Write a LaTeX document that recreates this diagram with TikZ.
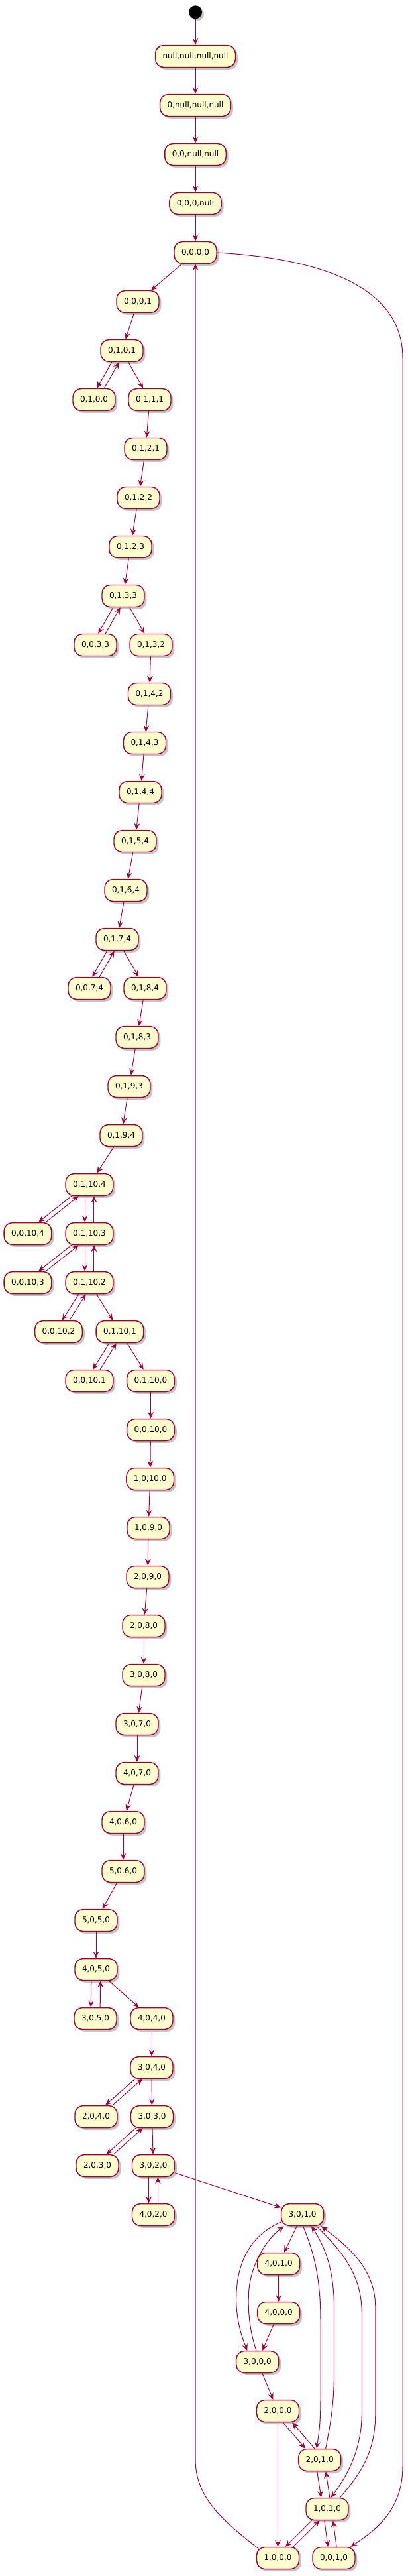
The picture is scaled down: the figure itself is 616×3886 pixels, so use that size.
\documentclass[tikz,border=0pt]{standalone}
\usepackage{fontspec}
\setmainfont{DejaVu Sans}
\usetikzlibrary{arrows.meta,shadows,calc}
\definecolor{pborder}{HTML}{A80036}
\definecolor{pfill}{HTML}{FEFECE}
\tikzset{
  st/.style={draw=pborder, fill=pfill, line width=1.1pt, rounded corners=9.4pt,
    minimum height=24.75pt, inner xsep=8.25pt, inner ysep=0pt,
    font=\fontsize{9}{11}\selectfont, text=black,
    drop shadow={shadow xshift=2.6pt, shadow yshift=-2.6pt, fill=gray, opacity=0.45}},
  arr/.style={draw=pborder, line width=0.75pt, -{Stealth[length=7.5pt,width=6.5pt,inset=2.8pt]}},
}
\newcommand{\pairedge}[3]{%
  \draw[arr, transform canvas={xshift=-#3}] (#1) -- (#2);
  \draw[arr, transform canvas={xshift=#3}] (#2) -- (#1);}
\begin{document}
\begin{tikzpicture}[x=0.75pt,y=-0.75pt]
\fill[white] (0,0) rectangle (616,3886);
\useasboundingbox (0,0) rectangle (616,3886);

% start
\node[circle, fill=black, minimum size=15pt, inner sep=0pt,
  drop shadow={shadow xshift=2.2pt, shadow yshift=-2.2pt, fill=gray, opacity=0.45}] (start) at (295,18.3) {};

% states
\node[st] (nA) at (295,85) {null,null,null,null};
\node[st] (nB) at (295,159) {0,null,null,null};
\node[st] (nC) at (295,233) {0,0,null,null};
\node[st] (nD) at (295,307) {0,0,0,null};
\node[st] (n0-0-0-0) at (295,381) {0,0,0,0};
\node[st] (n0-0-0-1) at (208,455) {0,0,0,1};
\node[st] (n0-1-0-1) at (184,529) {0,1,0,1};
\node[st] (n0-1-0-0) at (142,603) {0,1,0,0};
\node[st] (n0-1-1-1) at (226,603) {0,1,1,1};
\node[st] (n0-1-2-1) at (220,677) {0,1,2,1};
\node[st] (n0-1-2-2) at (209,751) {0,1,2,2};
\node[st] (n0-1-2-3) at (197,825) {0,1,2,3};
\node[st] (n0-1-3-3) at (186,899) {0,1,3,3};
\node[st] (n0-0-3-3) at (144,973) {0,0,3,3};
\node[st] (n0-1-3-2) at (228,973) {0,1,3,2};
\node[st] (n0-1-4-2) at (225.5,1047) {0,1,4,2};
\node[st] (n0-1-4-3) at (218.5,1121) {0,1,4,3};
\node[st] (n0-1-4-4) at (212,1195) {0,1,4,4};
\node[st] (n0-1-5-4) at (204,1269) {0,1,5,4};
\node[st] (n0-1-6-4) at (190,1343) {0,1,6,4};
\node[st] (n0-1-7-4) at (177,1417) {0,1,7,4};
\node[st] (n0-0-7-4) at (135,1491) {0,0,7,4};
\node[st] (n0-1-8-4) at (219,1491) {0,1,8,4};
\node[st] (n0-1-8-3) at (207,1565) {0,1,8,3};
\node[st] (n0-1-9-3) at (195,1639) {0,1,9,3};
\node[st] (n0-1-9-4) at (183,1713) {0,1,9,4};
\node[st] (n0-1-10-4) at (135,1787) {0,1,10,4};
\node[st] (n0-0-10-4) at (42,1861) {0,0,10,4};
\node[st] (n0-1-10-3) at (135,1861) {0,1,10,3};
\node[st] (n0-0-10-3) at (42,1935) {0,0,10,3};
\node[st] (n0-1-10-2) at (135,1935) {0,1,10,2};
\node[st] (n0-0-10-2) at (88.5,2009) {0,0,10,2};
\node[st] (n0-1-10-1) at (181,2009) {0,1,10,1};
\node[st] (n0-0-10-1) at (135,2083) {0,0,10,1};
\node[st] (n0-1-10-0) at (227.5,2083) {0,1,10,0};
\node[st] (n0-0-10-0) at (227.5,2157) {0,0,10,0};
\node[st] (n1-0-10-0) at (226.7,2231) {1,0,10,0};
\node[st] (n1-0-9-0) at (224,2305) {1,0,9,0};
\node[st] (n2-0-9-0) at (223,2379) {2,0,9,0};
\node[st] (n2-0-8-0) at (217,2453) {2,0,8,0};
\node[st] (n3-0-8-0) at (217,2527) {3,0,8,0};
\node[st] (n3-0-7-0) at (207,2601) {3,0,7,0};
\node[st] (n4-0-7-0) at (207,2675) {4,0,7,0};
\node[st] (n4-0-6-0) at (186,2749) {4,0,6,0};
\node[st] (n5-0-6-0) at (186,2823) {5,0,6,0};
\node[st] (n5-0-5-0) at (145,2897) {5,0,5,0};
\node[st] (n4-0-5-0) at (145,2971) {4,0,5,0};
\node[st] (n3-0-5-0) at (144,3045) {3,0,5,0};
\node[st] (n4-0-4-0) at (229,3045) {4,0,4,0};
\node[st] (n3-0-4-0) at (229,3119) {3,0,4,0};
\node[st] (n2-0-4-0) at (145,3193) {2,0,4,0};
\node[st] (n3-0-3-0) at (229.5,3193) {3,0,3,0};
\node[st] (n2-0-3-0) at (147,3267) {2,0,3,0};
\node[st] (n3-0-2-0) at (231.5,3267) {3,0,2,0};
\node[st] (n4-0-2-0) at (231.5,3341) {4,0,2,0};
\node[st] (n3-0-1-0) at (456.6,3341) {3,0,1,0};
\node[st] (n4-0-1-0) at (420.7,3415) {4,0,1,0};
\node[st] (n4-0-0-0) at (420.7,3489) {4,0,0,0};
\node[st] (n3-0-0-0) at (388.7,3563) {3,0,0,0};
\node[st] (n2-0-0-0) at (419.5,3637) {2,0,0,0};
\node[st] (n2-0-1-0) at (482.7,3711) {2,0,1,0};
\node[st] (n1-0-1-0) at (494,3785) {1,0,1,0};
\node[st] (n1-0-0-0) at (419.5,3859) {1,0,0,0};
\node[st] (n0-0-1-0) at (504,3859) {0,0,1,0};

% single transitions
\draw[arr] (start) -- (nA);
\draw[arr] (nA) -- (nB);
\draw[arr] (nB) -- (nC);
\draw[arr] (nC) -- (nD);
\draw[arr] (nD) -- (n0-0-0-0);
\draw[arr] (n0-0-0-0) -- (n0-0-0-1);
\draw[arr] (n0-0-0-1) -- (n0-1-0-1);
\draw[arr] (n0-1-0-1) -- (n0-1-1-1);
\draw[arr] (n0-1-1-1) -- (n0-1-2-1);
\draw[arr] (n0-1-2-1) -- (n0-1-2-2);
\draw[arr] (n0-1-2-2) -- (n0-1-2-3);
\draw[arr] (n0-1-2-3) -- (n0-1-3-3);
\draw[arr] (n0-1-3-3) -- (n0-1-3-2);
\draw[arr] (n0-1-3-2) -- (n0-1-4-2);
\draw[arr] (n0-1-4-2) -- (n0-1-4-3);
\draw[arr] (n0-1-4-3) -- (n0-1-4-4);
\draw[arr] (n0-1-4-4) -- (n0-1-5-4);
\draw[arr] (n0-1-5-4) -- (n0-1-6-4);
\draw[arr] (n0-1-6-4) -- (n0-1-7-4);
\draw[arr] (n0-1-7-4) -- (n0-1-8-4);
\draw[arr] (n0-1-8-4) -- (n0-1-8-3);
\draw[arr] (n0-1-8-3) -- (n0-1-9-3);
\draw[arr] (n0-1-9-3) -- (n0-1-9-4);
\draw[arr] (n0-1-9-4) -- (n0-1-10-4);
\draw[arr] (n0-1-10-2) -- (n0-1-10-1);
\draw[arr] (n0-1-10-1) -- (n0-1-10-0);
\draw[arr] (n0-1-10-0) -- (n0-0-10-0);
\draw[arr] (n0-0-10-0) -- (n1-0-10-0);
\draw[arr] (n1-0-10-0) -- (n1-0-9-0);
\draw[arr] (n1-0-9-0) -- (n2-0-9-0);
\draw[arr] (n2-0-9-0) -- (n2-0-8-0);
\draw[arr] (n2-0-8-0) -- (n3-0-8-0);
\draw[arr] (n3-0-8-0) -- (n3-0-7-0);
\draw[arr] (n3-0-7-0) -- (n4-0-7-0);
\draw[arr] (n4-0-7-0) -- (n4-0-6-0);
\draw[arr] (n4-0-6-0) -- (n5-0-6-0);
\draw[arr] (n5-0-6-0) -- (n5-0-5-0);
\draw[arr] (n5-0-5-0) -- (n4-0-5-0);
\draw[arr] (n4-0-5-0) -- (n4-0-4-0);
\draw[arr] (n4-0-4-0) -- (n3-0-4-0);
\draw[arr] (n3-0-4-0) -- (n3-0-3-0);
\draw[arr] (n3-0-3-0) -- (n3-0-2-0);
\draw[arr] (n3-0-2-0) -- (n3-0-1-0);
\draw[arr] (n3-0-1-0) -- (n4-0-1-0);
\draw[arr] (n4-0-1-0) -- (n4-0-0-0);
\draw[arr] (n4-0-0-0) -- (n3-0-0-0);
\draw[arr] (n3-0-0-0) -- (n2-0-0-0);
\draw[arr] (n2-0-0-0) -- (n1-0-0-0);

% paired transitions
\pairedge{n0-1-0-1}{n0-1-0-0}{4.1pt}
\pairedge{n0-1-3-3}{n0-0-3-3}{4.1pt}
\pairedge{n0-1-7-4}{n0-0-7-4}{4.1pt}
\pairedge{n0-1-10-4}{n0-0-10-4}{4.1pt}
\pairedge{n0-1-10-4}{n0-1-10-3}{5.2pt}
\pairedge{n0-1-10-3}{n0-0-10-3}{4.1pt}
\pairedge{n0-1-10-3}{n0-1-10-2}{5.2pt}
\pairedge{n0-1-10-2}{n0-0-10-2}{4.1pt}
\pairedge{n0-1-10-1}{n0-0-10-1}{4.1pt}
\pairedge{n4-0-5-0}{n3-0-5-0}{5.2pt}
\pairedge{n3-0-4-0}{n2-0-4-0}{4.1pt}
\pairedge{n3-0-3-0}{n2-0-3-0}{4.1pt}
\pairedge{n3-0-2-0}{n4-0-2-0}{5.2pt}
\pairedge{n2-0-0-0}{n2-0-1-0}{5.2pt}
\pairedge{n2-0-1-0}{n1-0-1-0}{4.9pt}
\pairedge{n1-0-1-0}{n1-0-0-0}{4.5pt}
\pairedge{n1-0-1-0}{n0-0-1-0}{4.9pt}

% curved transitions around 3,0,1,0
\draw[arr] ($(n3-0-1-0.west)+(1.5,10.5)$) .. controls (385,3368) and (357,3405) .. (356.7,3467)
  .. controls (356.5,3500) and (365,3525) .. ($(n3-0-0-0.north)+(-15.4,0)$);
\draw[arr] ($(n3-0-0-0.north)+(-1.7,0)$) .. controls (378,3520) and (374,3490) .. (375.5,3460)
  .. controls (377,3420) and (400,3380) .. ($(n3-0-1-0.south)+(-28,0)$);
\draw[arr] ($(n3-0-1-0.south)+(1,0)$) .. controls (475,3400) and (484,3440) .. (484,3500)
  -- (484,3620) .. controls (484,3660) and (480,3680) .. ($(n2-0-1-0.north)+(-4.7,0)$);
\draw[arr] ($(n2-0-1-0.north)+(9,0)$) .. controls (498,3660) and (504.4,3630) .. (504.4,3580)
  -- (504.4,3480) .. controls (504.4,3420) and (488,3385) .. ($(n3-0-1-0.south)+(13.4,0)$);
\draw[arr] ($(n3-0-1-0.south)+(21.4,0)$) .. controls (515,3395) and (546.3,3430) .. (546.3,3490)
  -- (546.3,3640) .. controls (546.3,3700) and (520,3740) .. ($(n1-0-1-0.north)+(5.7,0)$);
\draw[arr] ($(n1-0-1-0.north)+(19.5,0)$) .. controls (545,3730) and (566.8,3700) .. (566.8,3640)
  -- (566.8,3480) .. controls (566.8,3420) and (520,3385) .. ($(n3-0-1-0.south)+(28.4,0)$);

% long outer transitions
\draw[arr] (n0-0-0-0.east) .. controls (480,390) and (608,430) .. (608,540)
  -- (608,3720) .. controls (608,3785) and (570,3815) .. ($(n0-0-1-0.north)+(25.3,0)$);
\draw[arr] ($(n1-0-0-0.north west)+(3.5,3)$) .. controls (340,3805) and (295,3770) .. (295,3710)
  -- (n0-0-0-0.south);
\end{tikzpicture}
\end{document}
